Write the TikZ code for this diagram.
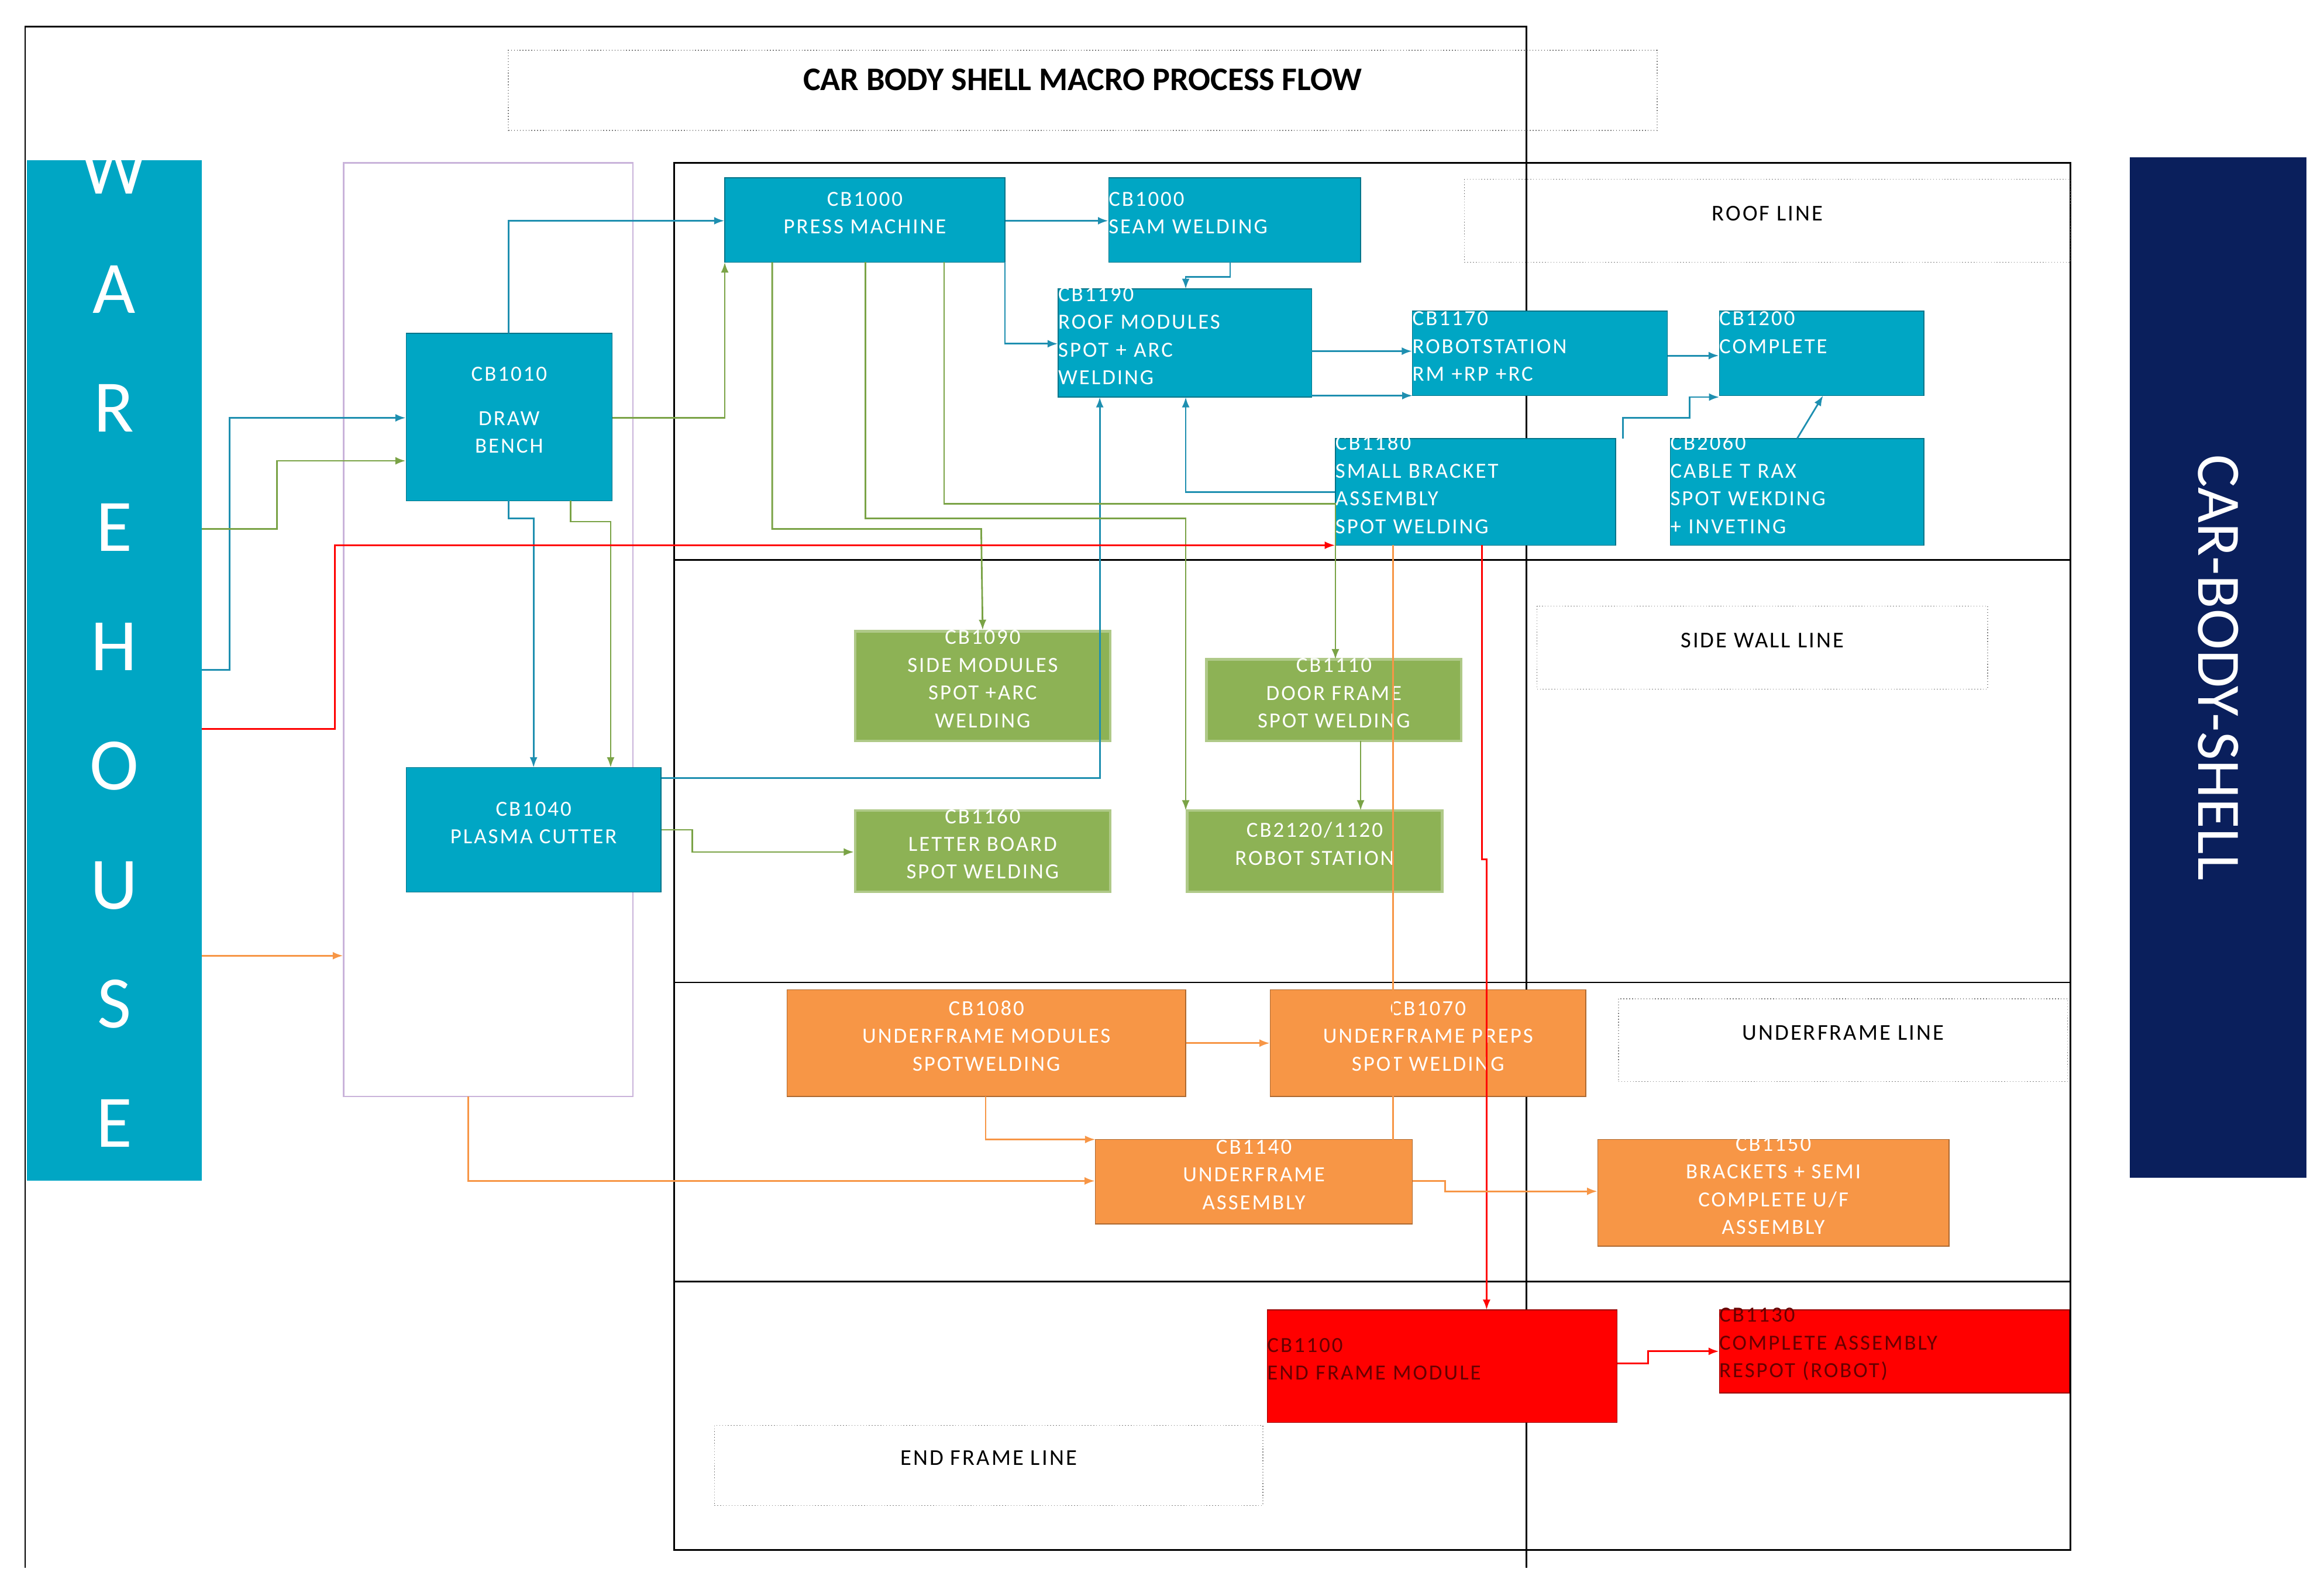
\documentclass[tikz,border=0pt]{standalone}
\usepackage{fontspec}
\setmainfont{Carlito}
\usetikzlibrary{fit,arrows.meta}
\definecolor{teal1}{HTML}{00A6C4}
\definecolor{grn}{HTML}{8DB255}
\definecolor{org}{HTML}{F79646}
\definecolor{navy1}{HTML}{0A1F5C}
\definecolor{purp}{HTML}{C9B3DA}
\definecolor{tl}{HTML}{1E8FB0}
\definecolor{gl}{HTML}{7AA346}
\begin{document}
\begin{tikzpicture}[x=0.02534cm,y=-0.02534cm,
 bx/.style={inner sep=0pt,text=white,font=\fontsize{10.5}{13.5}\selectfont\addfontfeature{LetterSpace=8},align=center},
 tb/.style={bx,fill=teal1,draw=teal1!70!black,thin},
 gb/.style={bx,fill=grn,draw=grn!70!white,very thick},
 ob/.style={bx,fill=org,draw=org!70!black,thin},
 rb/.style={bx,fill=red,draw=red!60!black,thin,text=red!40!black},
 lab/.style={draw=gray,densely dotted,inner sep=0pt,font=\fontsize{11}{13}\selectfont\addfontfeature{LetterSpace=8}},
 ta/.style={draw=tl,thick,-{Latex[length=5pt]}},
 ga/.style={draw=gl,thick,-{Latex[length=5pt]}},
 ra/.style={draw=red,thick,-{Latex[length=5pt]}},
 oa/.style={draw=org,thick,-{Latex[length=5pt]}}]
\useasboundingbox (0,0) rectangle (1568,1068);
% frames
\draw[thick] (17,1058) -- (17,18) -- (1030,18) -- (1030,1058);
\node[lab,fit={(343,34)(1118,88)},font=\bfseries\fontsize{16}{18}\selectfont] (title) {CAR BODY SHELL MACRO PROCESS FLOW};
\node[fill=teal1,inner sep=0pt,fit={(18,108)(136,797)},text=white,align=center,font=\fontsize{36}{58}\selectfont] (wh) {W\\A\\R\\E\\H\\O\\U\\S\\E};
\node[fill=navy1,inner sep=0pt,fit={(1437,106)(1556,795)}] (cbs) {};
\node[rotate=-90,text=white,font=\fontsize{30}{32}\selectfont] at (cbs.center) {CAR-BODY-SHELL};
\node[draw=purp,thick,inner sep=0pt,fit={(232,110)(427,740)}] (pb) {};
\draw[thick] (455,110) rectangle (1397,1046);
\draw[thick] (455,378) -- (1397,378) (455,663) -- (1397,663) (455,865) -- (1397,865);
\node[lab,fit={(988,121)(1397,177)}] (l1) {ROOF LINE};
\node[lab,fit={(1037,409)(1341,465)}] (l2) {SIDE WALL LINE};
\node[lab,fit={(1092,674)(1395,730)}] (l3) {UNDERFRAME LINE};
\node[lab,fit={(482,962)(852,1016)}] (l4) {END FRAME LINE};
% teal
\node[tb,fit={(489,120)(678,177)}] (pm) {CB1000\\PRESS MACHINE};
\node[tb,fit={(748,120)(918,177)},align=left] (sw) {CB1000\\SEAM WELDING};
\node[tb,fit={(714,195)(885,268)},align=left] (rm) {CB1190\\ROOF MODULES\\SPOT + ARC\\WELDING};
\node[tb,fit={(953,210)(1125,267)},align=left] (rs) {CB1170\\ROBOTSTATION\\RM +RP +RC};
\node[tb,fit={(1160,210)(1298,267)},align=left] (cp) {CB1200\\COMPLETE\\~};
\node[tb,fit={(274,225)(413,338)}] (db) {CB1010\\[8pt]DRAW\\BENCH};
\node[tb,fit={(901,296)(1090,368)},align=left] (sb) {CB1180\\SMALL BRACKET\\ASSEMBLY\\SPOT WELDING};
\node[tb,fit={(1127,296)(1298,368)},align=left] (ct) {CB2060\\CABLE T RAX\\SPOT WEKDING\\+ INVETING};
\node[tb,fit={(274,518)(446,602)}] (pc) {CB1040\\PLASMA CUTTER};
% green
\node[gb,fit={(577,426)(749,500)}] (sm) {CB1090\\SIDE MODULES\\SPOT +ARC\\WELDING};
\node[gb,fit={(814,445)(986,500)}] (df) {CB1110\\DOOR FRAME\\SPOT WELDING};
\node[gb,fit={(577,547)(749,602)}] (lb) {CB1160\\LETTER BOARD\\SPOT WELDING};
\node[gb,fit={(801,547)(973,602)}] (rob) {CB2120/1120\\ROBOT STATION};
% orange
\node[ob,fit={(531,668)(800,740)}] (um) {CB1080\\UNDERFRAME MODULES\\SPOTWELDING};
\node[ob,fit={(857,668)(1070,740)}] (up) {CB1070\\UNDERFRAME PREPS\\SPOT WELDING};
\node[ob,fit={(739,769)(953,826)}] (ua) {CB1140\\UNDERFRAME\\ASSEMBLY};
\node[ob,fit={(1078,769)(1315,841)}] (br) {CB1150\\BRACKETS + SEMI\\COMPLETE U/F\\ASSEMBLY};
% red
\node[rb,fit={(855,884)(1091,960)},align=left] (ef) {CB1100\\END FRAME MODULE};
\node[rb,fit={(1160,884)(1396,940)},align=left] (ca) {CB1130\\COMPLETE ASSEMBLY\\RESPOT (ROBOT)};
% teal connectors
\draw[ta] (136,452) -- (155,452) |- (db.west |- 0,282);
\draw[ta] (343,225) |- (pm.west |- 0,149);
\draw[ta] (pm.east |- 0,149) -- (sw.west |- 0,149);
\draw[ta] (830,177) |- (800,187) -- (800,195);
\draw[ta] (678,177) |- (rm.west |- 0,232);
\draw[ta] (885,237) -- (rs.west |- 0,237);
\draw[ta] (885,267) -- (953,267);
\draw[ta] (rs.east |- 0,240) -- (cp.west |- 0,240);
\draw[ta] (1095,296) |- (1140,282) |- (1160,268);
\draw[ta] (ct.north |- 0,296) -- (1230,267);
\draw[ta] (sb.west |- 0,332) -| (800,268);
\draw[ta] (pc.east |- 0,525) -| (742,268);
\draw[ta] (343,338) |- (360,350) -- (360,518);
% green connectors
\draw[ga] (136,357) -- (187,357) |- (db.west |- 0,311);
\draw[ga] (db.east |- 0,282) -| (489,177);
\draw[ga] (385,338) |- (412,352) -- (412,518);
\draw[ga] (521,177) |- (662,357) -- (sm.north);
\draw[ga] (584,177) |- (800,350) -- (800,547);
\draw[ga] (637,177) |- (901,340) -- (901,445);
\draw[ga] (918,500) -- (918,547);
\draw[ga] (pc.east |- 0,560) -| (467,575) -- (lb.west |- 0,575);
% red connectors
\draw[ra] (136,492) -- (226,492) |- (sb.west |- 0,368);
\draw[ra] (1000,368) -- (1000,580) -- (1003,580) -- (1003,884);
\draw[ra] (ef.east |- 0,920) -- (1112,920) |- (ca.west |- 0,912);
% orange connectors
\draw[oa] (136,645) -- (pb.west |- 0,645);
\draw[oa] (316,740) |- (ua.west |- 0,797);
\draw[oa] (um.east |- 0,704) -- (up.west |- 0,704);
\draw[oa] (665,740) |- (739,769);
\draw[oa] (940,368) -- (940,782);
\draw[oa] (ua.east |- 0,797) -- (975,797) |- (br.west |- 0,804);
\end{tikzpicture}
\end{document}
